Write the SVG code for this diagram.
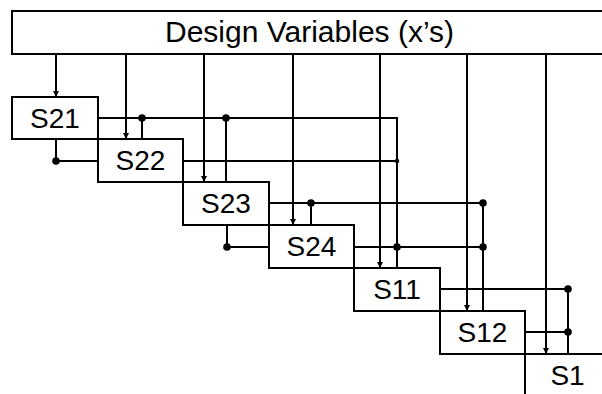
<svg xmlns="http://www.w3.org/2000/svg" width="602" height="394" viewBox="0 0 602 394">
<defs>
<style>
.box{fill:#fff;stroke:#000;stroke-width:2}
.ln{fill:none;stroke:#000;stroke-width:2}
.lbl{font-family:"Liberation Sans",Arial,sans-serif;font-size:28px;fill:#000;text-anchor:middle}
.hdr{font-family:"Liberation Sans",Arial,sans-serif;font-size:30px;fill:#000}
.dot{fill:#000}
</style>
<marker id="ah" viewBox="0 0 6 6" refX="6" refY="3" markerWidth="6" markerHeight="6" markerUnits="userSpaceOnUse" orient="auto">
<path d="M0,0 L6,3 L0,6 z" fill="#000"/>
</marker>
</defs>
<rect width="602" height="394" fill="#fff"/>
<g id="header">
<rect class="box" x="12" y="11" width="600" height="43"/>
<text class="hdr" x="165" y="42">Design Variables (x’s)</text>
</g>
<g id="connectors">
<line class="ln" x1="56" y1="54" x2="56" y2="97" marker-end="url(#ah)"/>
<line class="ln" x1="126" y1="54" x2="126" y2="139" marker-end="url(#ah)"/>
<line class="ln" x1="204" y1="54" x2="204" y2="182" marker-end="url(#ah)"/>
<line class="ln" x1="293" y1="54" x2="293" y2="225" marker-end="url(#ah)"/>
<line class="ln" x1="380" y1="54" x2="380" y2="268" marker-end="url(#ah)"/>
<line class="ln" x1="467" y1="54" x2="467" y2="311" marker-end="url(#ah)"/>
<line class="ln" x1="546" y1="54" x2="546" y2="354" marker-end="url(#ah)"/>
<path class="ln" d="M98,118 H397 V268"/>
<path class="ln" d="M142,118 V139"/>
<path class="ln" d="M226,118 V182"/>
<path class="ln" d="M56,139 V161 H98"/>
<path class="ln" d="M183,161 H397"/>
<path class="ln" d="M269,203 H483 V311"/>
<path class="ln" d="M311,203 V225"/>
<path class="ln" d="M227,225 V247 H269"/>
<path class="ln" d="M354,247 H483"/>
<path class="ln" d="M440,289 H568 V354"/>
<path class="ln" d="M525,332 H568"/>
<circle class="dot" cx="142" cy="118" r="3.8"/>
<circle class="dot" cx="226" cy="118" r="3.8"/>
<circle class="dot" cx="56" cy="161" r="3.8"/>
<circle class="dot" cx="397" cy="161" r="2.3"/>
<circle class="dot" cx="311" cy="203" r="3.8"/>
<circle class="dot" cx="483" cy="203" r="3.8"/>
<circle class="dot" cx="227" cy="247" r="3.8"/>
<circle class="dot" cx="397" cy="247" r="3.8"/>
<circle class="dot" cx="483" cy="247" r="3.8"/>
<circle class="dot" cx="568" cy="289" r="3.8"/>
<circle class="dot" cx="568" cy="332" r="3.8"/>
</g>
<g id="S21"><rect class="box" x="12" y="97" width="86" height="42"/><text class="lbl" x="55" y="128">S21</text></g>
<g id="S22"><rect class="box" x="98" y="139" width="85" height="43"/><text class="lbl" x="140.5" y="170">S22</text></g>
<g id="S23"><rect class="box" x="183" y="182" width="86" height="43"/><text class="lbl" x="226" y="213">S23</text></g>
<g id="S24"><rect class="box" x="269" y="225" width="85" height="43"/><text class="lbl" x="311.5" y="256">S24</text></g>
<g id="S11"><rect class="box" x="354" y="268" width="86" height="43"/><text class="lbl" x="397" y="299">S11</text></g>
<g id="S12"><rect class="box" x="440" y="311" width="85" height="43"/><text class="lbl" x="482.5" y="342">S12</text></g>
<g id="S1"><rect class="box" x="525" y="354" width="100" height="60"/><text class="lbl" x="567.5" y="385">S1</text></g>
</svg>
